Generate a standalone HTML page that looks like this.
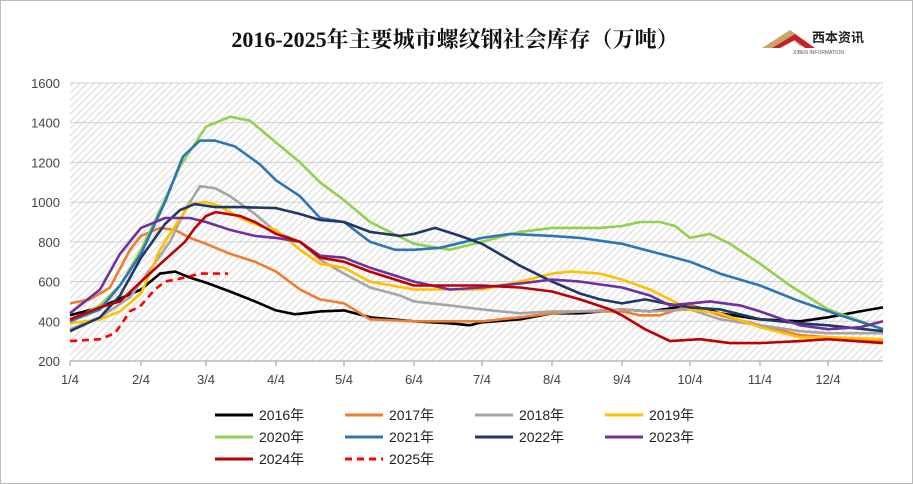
<!DOCTYPE html>
<html><head><meta charset="utf-8"><style>
body{margin:0;background:#fff;}
svg{display:block;font-family:"Liberation Sans","Noto Sans CJK SC",sans-serif;}
</style></head><body>
<svg id="s" width="913" height="484" viewBox="0 0 913 484">
<defs><pattern id="h" width="5" height="5" patternUnits="userSpaceOnUse" patternTransform="rotate(45)">
<rect width="5" height="5" fill="#fff"/><line x1="0" y1="0" x2="0" y2="5" stroke="#d8d8d8" stroke-width="2"/></pattern></defs>
<rect x="0.5" y="0.5" width="912" height="483" fill="#fff" stroke="#bbb"/>
<rect x="70" y="83" width="813" height="278" fill="url(#h)"/>
<text x="455" y="47" text-anchor="middle" font-family="'Liberation Serif','Noto Serif CJK SC',serif" font-weight="bold" font-size="22" fill="#111">2016-2025年主要城市螺纹钢社会库存（万吨）</text>
<path d="M762 48 L790 30 L812 46 L800 46 L790 37 L772 48Z" fill="#c9a464"/>
<path d="M772 48 L795 34 L815 48 L805 48 L795 40 L780 48Z" fill="#c8202a"/>
<text x="812" y="42" font-size="13" font-weight="bold" fill="#222" font-family="'Noto Sans CJK SC',sans-serif">西本资讯</text>
<text x="793" y="54" font-size="5" fill="#555">XIBEN INFORMATION</text>
<g id="g"></g>
</svg>
<script>
var g=document.getElementById('g'),h='';
function Y(v){return 361-(v-200)*0.1986;}
for(var v=200;v<=1600;v+=200){h+='<line x1="70" x2="883" y1="'+Y(v)+'" y2="'+Y(v)+'" stroke="#d0d0d0"/>';h+='<text x="60" y="'+(Y(v)+5)+'" text-anchor="end" font-size="13" fill="#444">'+v+'</text>';}
h+='<line x1="70" x2="883" y1="361" y2="361" stroke="#999"/>';
var xs=[70,141,206,276,344,414,482,552,622,690,760,828];
xs.forEach(function(x,i){h+='<line x1="'+x+'" x2="'+x+'" y1="361" y2="366" stroke="#999"/><text x="'+x+'" y="384" text-anchor="middle" font-size="13" fill="#444">'+(i+1)+'/4</text>';});
var S=[
["#000",[[70,430],[100,470],[141,560],[160,640],[175,650],[190,620],[206,595],[230,550],[255,500],[276,455],[295,435],[320,450],[344,455],[370,420],[414,400],[450,390],[470,380],[482,395],[520,410],[552,440],[580,440],[622,460],[650,450],[690,480],[720,440],[760,410],[800,400],[828,420],[860,450],[883,470]]],
["#ed7d31",[[70,490],[90,510],[110,570],[130,760],[141,830],[160,870],[175,860],[190,820],[206,790],[230,740],[255,700],[276,650],[300,560],[320,510],[344,490],[370,410],[414,400],[450,400],[482,400],[520,420],[552,440],[580,450],[622,450],[640,430],[660,430],[690,480],[720,430],[760,380],[800,330],[828,320],[883,300]]],
["#a5a5a5",[[70,360],[100,420],[130,520],[150,660],[170,800],[185,960],[200,1080],[215,1070],[230,1030],[255,940],[276,850],[300,800],[320,710],[344,640],[370,570],[400,530],[414,500],[450,480],[482,460],[520,440],[552,450],[580,450],[622,460],[650,450],[690,460],[720,410],[760,380],[800,350],[828,340],[883,340]]],
["#ffc000",[[70,390],[100,410],[120,450],[141,540],[160,760],[175,880],[190,990],[206,1000],[220,980],[240,920],[260,880],[276,860],[300,760],[320,690],[344,670],[370,600],[414,560],[450,560],[482,560],[520,600],[552,640],[570,650],[600,640],[622,610],[650,560],[690,460],[720,440],[760,370],[800,320],[828,320],[883,310]]],
["#92d050",[[70,400],[100,480],[120,580],[141,760],[160,960],[180,1180],[206,1380],[230,1430],[250,1410],[276,1300],[300,1200],[320,1100],[344,1010],[370,900],[414,790],[450,760],[482,800],[520,850],[552,870],[600,870],[622,880],[640,900],[660,900],[675,880],[690,820],[710,840],[730,790],[760,690],[790,580],[828,460],[883,360]]],
["#2e75b6",[[70,400],[100,460],[120,580],[141,740],[165,1000],[183,1230],[200,1310],[215,1310],[235,1280],[260,1190],[276,1110],[300,1030],[320,920],[344,900],[370,800],[395,760],[414,760],[440,770],[465,800],[482,820],[510,840],[552,830],[580,820],[622,790],[660,740],[690,700],[720,640],[760,580],[800,500],[840,430],[883,360]]],
["#1f3864",[[70,350],[100,420],[120,530],[141,720],[165,890],[180,960],[195,990],[215,975],[240,975],[276,970],[300,940],[320,910],[344,900],[370,850],[400,830],[414,840],[435,870],[460,830],[482,790],[520,680],[552,600],[580,540],[600,510],[622,490],[645,510],[665,490],[690,470],[720,460],[760,410],[800,390],[828,380],[883,350]]],
["#7030a0",[[70,440],[100,560],[120,740],[141,870],[165,920],[190,920],[206,900],[230,860],[255,830],[276,820],[300,800],[320,730],[344,720],[370,670],[414,600],[450,560],[482,570],[520,590],[552,610],[580,600],[622,570],[650,530],[670,480],[690,490],[710,500],[740,480],[760,450],[800,380],[828,360],[860,370],[883,400]]],
["#c00000",[[70,410],[100,470],[120,500],[141,600],[165,710],[185,800],[195,870],[206,930],[216,950],[240,930],[255,900],[276,840],[300,800],[320,720],[344,700],[370,650],[414,580],[450,580],[482,580],[520,570],[552,550],[580,510],[610,460],[622,430],[645,360],[670,300],[700,310],[730,290],[760,290],[800,300],[828,310],[883,290]]],
["#ff0000",[[70,300],[100,310],[115,340],[130,450],[141,480],[155,560],[165,600],[185,620],[200,640],[228,640]],1]
];
S.forEach(function(s){var d=s[1].map(function(p,i){return (i?'L':'M')+p[0]+' '+Y(p[1]).toFixed(1);}).join('');
h+='<path d="'+d+'" fill="none" stroke="'+s[0]+'" stroke-width="2.6" stroke-linejoin="round"'+(s[2]?' stroke-dasharray="7,5"':'')+'/>';});
var L=[["2016年",0,215,415],["2017年",1,345,415],["2018年",2,475,415],["2019年",3,605,415],["2020年",4,215,437],["2021年",5,345,437],["2022年",6,475,437],["2023年",7,605,437],["2024年",8,215,459],["2025年",9,345,459]];
L.forEach(function(l){var s=S[l[1]];h+='<line x1="'+l[2]+'" x2="'+(l[2]+38)+'" y1="'+l[3]+'" y2="'+l[3]+'" stroke="'+s[0]+'" stroke-width="3"'+(s[2]?' stroke-dasharray="7,5"':'')+'/><text x="'+(l[2]+44)+'" y="'+(l[3]+5)+'" font-size="14" fill="#222">'+l[0]+'</text>';});
g.innerHTML=h;
</script>
</body></html>
